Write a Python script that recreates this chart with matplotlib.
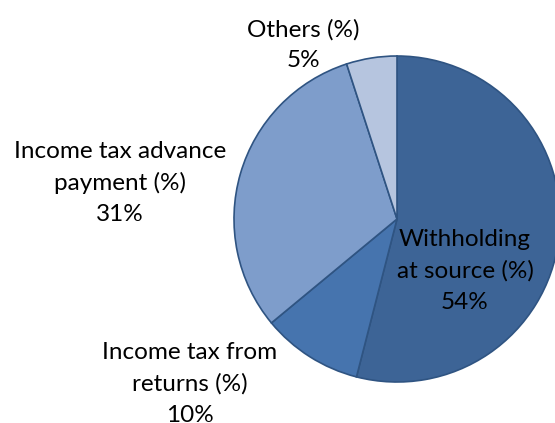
import matplotlib.pyplot as plt

# data
labels = ['Withholding\nat source (%)', 'Income tax from\nreturns (%)',
          'Income tax advance\npayment (%)', 'Others (%)']
values = [54, 10, 31, 5]
colors = ['#3d6496', '#4674ae', '#7e9dcb', '#b6c5df']

# where each label block sits (pixels, from top-left)
label_pos = [(465, 271), (190, 384), (120, 183), (303, 45)]

H = 423
plt.rcParams['font.family'] = ['Lato', 'DejaVu Sans']

fig = plt.figure(figsize=(5.55, 4.23), dpi=100)
ax = fig.add_axes([0, 0, 1, 1])

ax.pie(values, colors=colors, startangle=90, counterclock=False,
       center=(397, H - 219), radius=163,
       wedgeprops=dict(edgecolor='#2f5482', linewidth=1.2))

for lab, v, (x, y) in zip(labels, values, label_pos):
    ax.text(x, H - y, f'{lab}\n{v}%', ha='center', va='center', fontsize=17.5,
            linespacing=1.58, color='black')

ax.set_xlim(0, 555)
ax.set_ylim(0, H)
ax.set_aspect('auto')
ax.axis('off')

fig.savefig('out.png', dpi=100)
